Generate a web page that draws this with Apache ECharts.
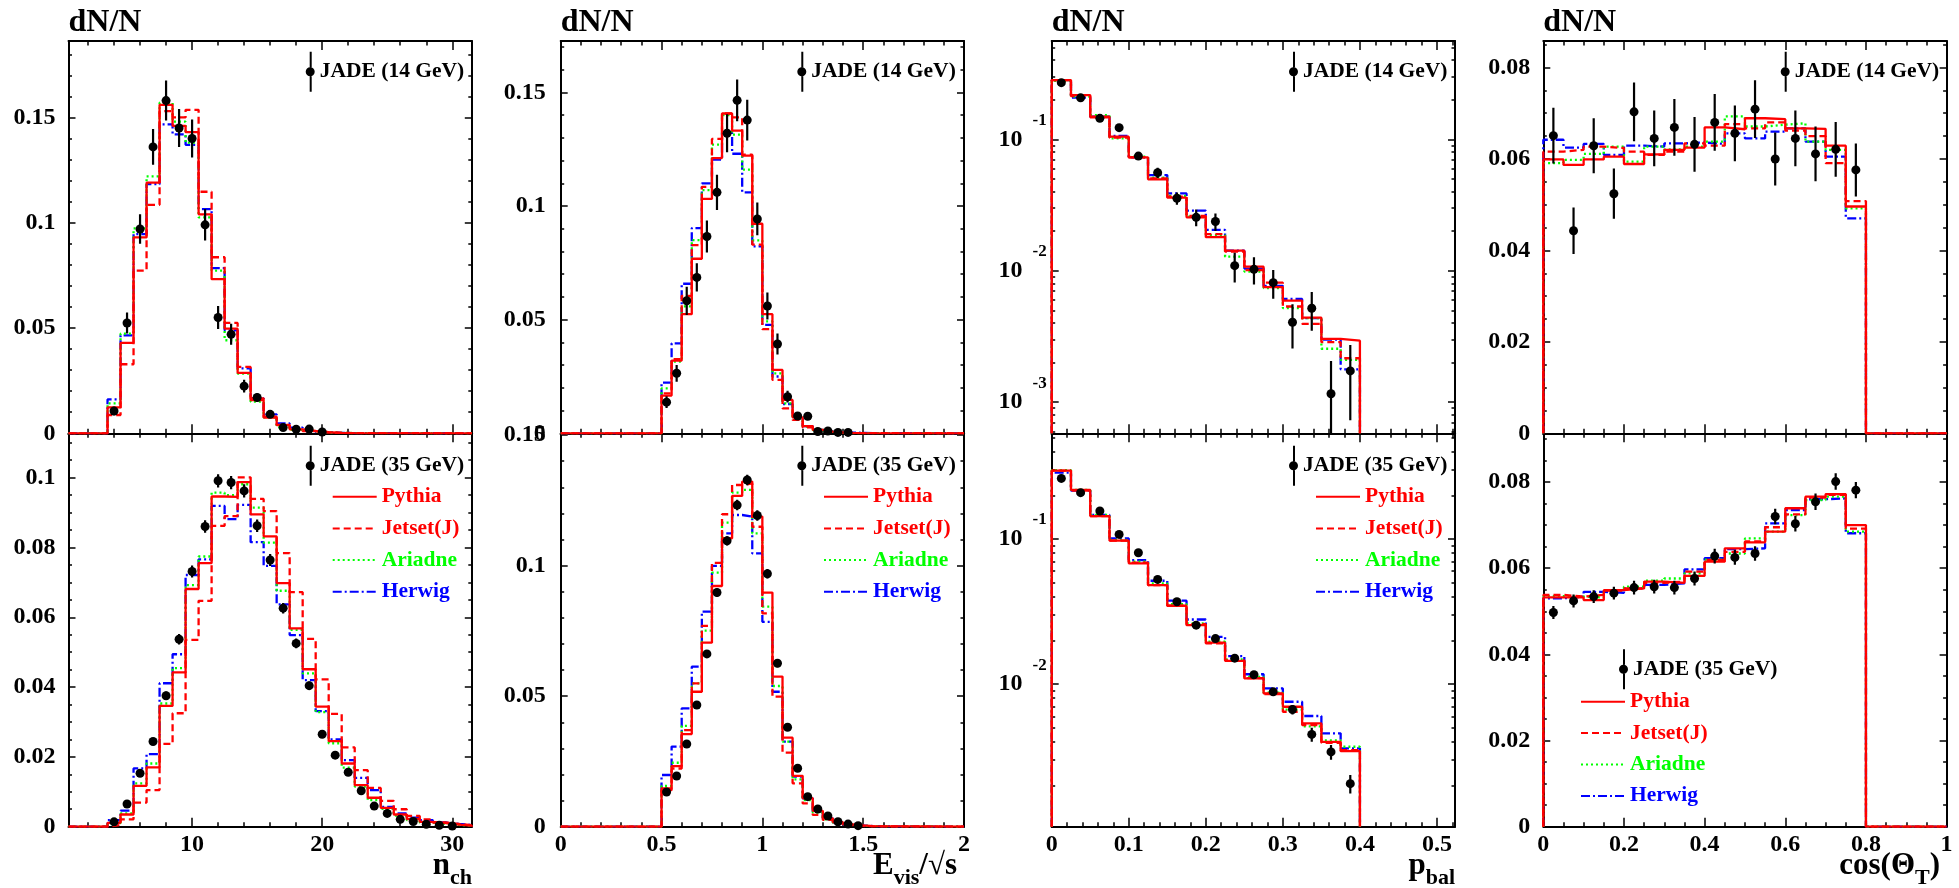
<!DOCTYPE html>
<html>
<head>
<meta charset="utf-8">
<script src="https://cdn.jsdelivr.net/npm/echarts@6/dist/echarts.min.js"></script>
<style>
html, body { margin: 0; padding: 0; background: #fff; }
#main { width: 1959px; height: 888px; }
</style>
</head>
<body>
<div id="main"></div>
<script>
// ---------- n_ch ----------
var nchEdges = [3.5, 4.5, 5.5, 6.5, 7.5, 8.5, 9.5, 10.5, 11.5, 12.5, 13.5, 14.5, 15.5, 16.5, 17.5, 18.5, 19.5, 20.5, 21.5, 22.5, 23.5, 24.5, 25.5, 26.5, 27.5, 28.5, 29.5, 30.5, 31.5];
var nchX14 = [4, 5, 6, 7, 8, 9, 10, 11, 12, 13, 14, 15, 16, 17, 18, 19, 20];
var nchData14 = [0.0106, 0.0524, 0.097, 0.136, 0.158, 0.145, 0.140, 0.099, 0.055, 0.047, 0.0224, 0.017, 0.009, 0.0027, 0.0019, 0.002, 0.0006];
var nchErr14 = [0.002, 0.005, 0.007, 0.0085, 0.0095, 0.009, 0.009, 0.0075, 0.0055, 0.005, 0.003, 0.002, 0.0015, 0.001, 0.0008, 0.0008, 0.0005];
var nchPythia14 = [0.0123, 0.0429, 0.093, 0.119, 0.156, 0.146, 0.143, 0.104, 0.0732, 0.0497, 0.0287, 0.0158, 0.0074, 0.0039, 0.0019, 0.0011, 0.0005, 0.0002, 0.0001];
var nchJetset14 = [0.0087, 0.0328, 0.0773, 0.1085, 0.153, 0.150, 0.1536, 0.1147, 0.0836, 0.0524, 0.0315, 0.0166, 0.0079, 0.004, 0.002, 0.001, 0.0005, 0.0002, 0.0001];
var nchAriadne14 = [0.0142, 0.0473, 0.0973, 0.122, 0.157, 0.148, 0.138, 0.1025, 0.0773, 0.0442, 0.0284, 0.015, 0.0076, 0.0028, 0.0016, 0.001, 0.0004, 0.0002, 0.0001];
var nchHerwig14 = [0.0161, 0.0465, 0.0946, 0.1183, 0.1467, 0.142, 0.137, 0.1065, 0.0784, 0.0489, 0.0308, 0.0166, 0.009, 0.0047, 0.0027, 0.0016, 0.0006, 0.0002, 0.0001];

var nchX35 = [4, 5, 6, 7, 8, 9, 10, 11, 12, 13, 14, 15, 16, 17, 18, 19, 20, 21, 22, 23, 24, 25, 26, 27, 28, 29, 30];
var nchData35 = [0.0014, 0.0065, 0.0153, 0.0244, 0.0375, 0.0537, 0.0731, 0.086, 0.0991, 0.0986, 0.0962, 0.0862, 0.0764, 0.0626, 0.0525, 0.0404, 0.0265, 0.0205, 0.0156, 0.0103, 0.0059, 0.0038, 0.0021, 0.0015, 0.0007, 0.0004, 0.0002];
var nchErr35 = [0.0003, 0.0005, 0.0008, 0.001, 0.0012, 0.0015, 0.0017, 0.0018, 0.0019, 0.0019, 0.0019, 0.0018, 0.0017, 0.0015, 0.0014, 0.0012, 0.001, 0.0009, 0.0008, 0.0006, 0.0005, 0.0004, 0.0003, 0.0003, 0.0002, 0.0002, 0.0001];
var nchPythia35 = [0.0011, 0.0035, 0.0117, 0.017, 0.0346, 0.0442, 0.0681, 0.0755, 0.0946, 0.0945, 0.0987, 0.0895, 0.0832, 0.0698, 0.0568, 0.0451, 0.0344, 0.0245, 0.0181, 0.0119, 0.0083, 0.0054, 0.0035, 0.0022, 0.0014, 0.001, 0.0006, 0.0003];
var nchJetset35 = [0.0005, 0.0021, 0.0069, 0.0105, 0.0237, 0.0325, 0.0535, 0.0647, 0.0862, 0.089, 0.1001, 0.0939, 0.0904, 0.0784, 0.0672, 0.0538, 0.0422, 0.0323, 0.0227, 0.0162, 0.0111, 0.0074, 0.005, 0.0031, 0.0021, 0.0012, 0.0008, 0.0004];
var nchAriadne35 = [0.001, 0.0038, 0.0124, 0.0181, 0.0353, 0.0454, 0.0692, 0.0774, 0.0957, 0.095, 0.0981, 0.0914, 0.0814, 0.0676, 0.0564, 0.0439, 0.0328, 0.0239, 0.0169, 0.0115, 0.0076, 0.0051, 0.0032, 0.0019, 0.0012, 0.0008, 0.0005, 0.0003];
var nchHerwig35 = [0.0019, 0.0046, 0.0167, 0.0208, 0.0411, 0.0494, 0.0721, 0.0766, 0.0919, 0.0881, 0.0922, 0.0815, 0.0747, 0.0637, 0.0549, 0.042, 0.0331, 0.025, 0.0191, 0.014, 0.0105, 0.0057, 0.0038, 0.0026, 0.0019, 0.0012, 0.0008, 0.0005];

// ---------- E_vis / sqrt(s) ----------
var evisEdges = [0.5, 0.55, 0.6, 0.65, 0.7, 0.75, 0.8, 0.85, 0.9, 0.95, 1.0, 1.05, 1.1, 1.15, 1.2, 1.25, 1.3, 1.35, 1.4, 1.45, 1.5, 1.55];
var evisX14 = [0.525, 0.575, 0.625, 0.675, 0.725, 0.775, 0.825, 0.875, 0.925, 0.975, 1.025, 1.075, 1.125, 1.175, 1.225, 1.275, 1.325, 1.375, 1.425];
var evisData14 = [0.0137, 0.0264, 0.0583, 0.0686, 0.0866, 0.106, 0.132, 0.1465, 0.1378, 0.0943, 0.056, 0.0393, 0.0161, 0.0076, 0.0075, 0.0008, 0.001, 0.0004, 0.0004];
var evisErr14 = [0.0026, 0.0037, 0.0062, 0.0062, 0.007, 0.0078, 0.0084, 0.0092, 0.009, 0.0072, 0.0059, 0.0046, 0.0026, 0.0013, 0.0013, 0.0005, 0.0005, 0.0004, 0.0004];
var evisPythia14 = [0.0166, 0.032, 0.0524, 0.0768, 0.1031, 0.1211, 0.1407, 0.1332, 0.1222, 0.0922, 0.0524, 0.0279, 0.0147, 0.007, 0.0032, 0.0015, 0.0007, 0.0004, 0.0002, 0.0001];
var evisJetset14 = [0.0176, 0.0326, 0.0605, 0.0828, 0.1084, 0.1295, 0.1407, 0.139, 0.1226, 0.083, 0.0458, 0.0235, 0.011, 0.0059, 0.0026, 0.0012, 0.0006, 0.0003, 0.0001];
var evisAriadne14 = [0.0198, 0.0316, 0.0558, 0.085, 0.107, 0.127, 0.140, 0.1314, 0.116, 0.0849, 0.0492, 0.0264, 0.0132, 0.0066, 0.0029, 0.0014, 0.0007, 0.0003, 0.0001];
var evisHerwig14 = [0.0223, 0.0396, 0.0658, 0.0903, 0.11, 0.1204, 0.1322, 0.123, 0.106, 0.0822, 0.0477, 0.025, 0.0129, 0.0073, 0.0032, 0.0015, 0.0008, 0.0005, 0.0003, 0.0002, 0.0001];

var evisX35 = [0.525, 0.575, 0.625, 0.675, 0.725, 0.775, 0.825, 0.875, 0.925, 0.975, 1.025, 1.075, 1.125, 1.175, 1.225, 1.275, 1.325, 1.375, 1.425, 1.475];
var evisData35 = [0.0133, 0.0194, 0.0317, 0.0466, 0.0662, 0.0897, 0.1095, 0.1232, 0.1328, 0.1192, 0.0969, 0.0626, 0.0381, 0.0224, 0.0115, 0.0068, 0.0041, 0.0019, 0.001, 0.0004];
var evisErr35 = [0.0006, 0.0008, 0.001, 0.0012, 0.0014, 0.0016, 0.0018, 0.002, 0.002, 0.002, 0.0018, 0.0015, 0.0012, 0.0009, 0.0007, 0.0005, 0.0004, 0.0003, 0.0002, 0.0001];
var evisPythia35 = [0.0147, 0.0232, 0.0355, 0.0517, 0.0705, 0.0922, 0.1105, 0.1267, 0.1322, 0.1188, 0.0897, 0.0575, 0.0341, 0.0195, 0.0109, 0.0061, 0.0032, 0.0017, 0.0009, 0.0005, 0.0002];
var evisJetset35 = [0.014, 0.0223, 0.037, 0.0549, 0.0769, 0.1011, 0.1197, 0.1309, 0.1315, 0.1149, 0.0817, 0.0498, 0.0284, 0.0166, 0.0089, 0.0045, 0.0026, 0.0013, 0.0006, 0.0003, 0.0001];
var evisAriadne35 = [0.0156, 0.0245, 0.0386, 0.0549, 0.0751, 0.0973, 0.1165, 0.128, 0.129, 0.1124, 0.0843, 0.0539, 0.0326, 0.0181, 0.0102, 0.0054, 0.0028, 0.0015, 0.0008, 0.0004, 0.0002];
var evisHerwig35 = [0.0198, 0.0307, 0.0453, 0.0613, 0.0824, 0.0999, 0.1124, 0.1194, 0.1188, 0.1047, 0.0785, 0.0517, 0.0326, 0.0192, 0.0109, 0.0057, 0.0032, 0.0017, 0.0009, 0.0005, 0.0002];

// ---------- p_bal (log) ----------
var pbalEdges = [0, 0.025, 0.05, 0.075, 0.1, 0.125, 0.15, 0.175, 0.2, 0.225, 0.25, 0.275, 0.3, 0.325, 0.35, 0.375, 0.4];
var pbalX = [0.0125, 0.0375, 0.0625, 0.0875, 0.1125, 0.1375, 0.1625, 0.1875, 0.2125, 0.2375, 0.2625, 0.2875, 0.3125, 0.3375, 0.3625, 0.3875];
var pbalData14 = [0.270, 0.207, 0.1445, 0.1227, 0.0746, 0.0558, 0.0356, 0.0255, 0.0237, 0.01094, 0.01025, 0.00812, 0.00406, 0.00519, 0.00116, 0.00173];
var pbalErr14 = [0.008, 0.006, 0.005, 0.005, 0.005, 0.005, 0.0038, 0.0037, 0.0036, 0.0028, 0.0024, 0.002, 0.0015, 0.0017, 0.0009, 0.001];
var pbalPythia14 = [0.2825, 0.2172, 0.1486, 0.1047, 0.073, 0.0496, 0.036, 0.0255, 0.018, 0.01423, 0.01075, 0.0075, 0.00593, 0.0044, 0.00303, 0.00294];
var pbalJetset14 = [0.2825, 0.213, 0.147, 0.103, 0.073, 0.0505, 0.0366, 0.0261, 0.019, 0.014, 0.01014, 0.00812, 0.00535, 0.00395, 0.00286, 0.00216];
var pbalAriadne14 = [0.279, 0.211, 0.1531, 0.1018, 0.0738, 0.0511, 0.0371, 0.0258, 0.0187, 0.0128, 0.00986, 0.00739, 0.0052, 0.00436, 0.00255, 0.0021];
var pbalHerwig14 = [0.2825, 0.208, 0.1486, 0.106, 0.073, 0.0535, 0.0388, 0.0287, 0.0205, 0.01423, 0.0104, 0.00768, 0.0061, 0.00436, 0.003, 0.00178];

var pbalData35 = [0.262, 0.209, 0.156, 0.1077, 0.0805, 0.0527, 0.037, 0.0255, 0.0206, 0.0151, 0.0116, 0.00885, 0.00668, 0.0045, 0.00341, 0.00206];
var pbalErr35 = [0.004, 0.003, 0.0025, 0.002, 0.0015, 0.0012, 0.001, 0.0008, 0.0007, 0.0006, 0.0005, 0.0005, 0.0005, 0.0005, 0.0004, 0.0003];
var pbalPythia35 = [0.296, 0.218, 0.144, 0.0975, 0.068, 0.0482, 0.0347, 0.0255, 0.0193, 0.01448, 0.01094, 0.00863, 0.00698, 0.00536, 0.004, 0.00345];
var pbalJetset35 = [0.296, 0.216, 0.144, 0.0975, 0.0687, 0.0482, 0.0347, 0.0259, 0.0191, 0.0146, 0.011, 0.00855, 0.00645, 0.00522, 0.00394, 0.0035];
var pbalAriadne35 = [0.299, 0.218, 0.1465, 0.0985, 0.0698, 0.0495, 0.0356, 0.0262, 0.0196, 0.0148, 0.0112, 0.00873, 0.00668, 0.00511, 0.0041, 0.0037];
var pbalHerwig35 = [0.287, 0.216, 0.1465, 0.101, 0.0716, 0.0516, 0.0376, 0.0279, 0.0212, 0.0156, 0.0117, 0.00934, 0.00756, 0.00603, 0.00458, 0.00361];

// ---------- cos(Theta_T) ----------
var cosEdges = [0, 0.05, 0.1, 0.15, 0.2, 0.25, 0.3, 0.35, 0.4, 0.45, 0.5, 0.55, 0.6, 0.65, 0.7, 0.75, 0.8];
var cosX = [0.025, 0.075, 0.125, 0.175, 0.225, 0.275, 0.325, 0.375, 0.425, 0.475, 0.525, 0.575, 0.625, 0.675, 0.725, 0.775];
var cosData14 = [0.0651, 0.0443, 0.0629, 0.0524, 0.0703, 0.0645, 0.0669, 0.0632, 0.068, 0.0656, 0.0709, 0.06, 0.0645, 0.0611, 0.0621, 0.0576];
var cosErr14 = [0.0061, 0.0051, 0.006, 0.0055, 0.0064, 0.0061, 0.0062, 0.006, 0.0062, 0.0061, 0.0063, 0.0058, 0.0061, 0.006, 0.006, 0.0058];
var cosPythia14 = [0.0599, 0.0587, 0.0599, 0.0605, 0.0589, 0.061, 0.062, 0.0625, 0.0669, 0.0665, 0.0689, 0.0687, 0.0667, 0.0666, 0.0629, 0.0496];
var cosJetset14 = [0.0616, 0.062, 0.0627, 0.0624, 0.0616, 0.0609, 0.0616, 0.0634, 0.0629, 0.0676, 0.0667, 0.068, 0.0662, 0.065, 0.0591, 0.0508];
var cosAriadne14 = [0.0591, 0.0598, 0.0611, 0.0627, 0.0594, 0.0627, 0.0621, 0.0627, 0.0638, 0.0693, 0.0671, 0.0675, 0.0678, 0.0638, 0.062, 0.0492];
var cosHerwig14 = [0.0642, 0.0625, 0.0633, 0.0609, 0.0629, 0.0627, 0.0634, 0.0636, 0.0633, 0.0656, 0.0645, 0.066, 0.0667, 0.0638, 0.0605, 0.047];

var cosData35 = [0.0497, 0.0524, 0.0534, 0.0542, 0.0555, 0.0557, 0.0555, 0.0576, 0.0628, 0.0625, 0.0634, 0.072, 0.0703, 0.0754, 0.0801, 0.0781];
var cosErr35 = [0.0015, 0.0015, 0.0015, 0.0015, 0.0016, 0.0016, 0.0016, 0.0016, 0.0017, 0.0017, 0.0017, 0.0018, 0.0018, 0.0019, 0.0019, 0.0019];
var cosPythia35 = [0.0532, 0.0532, 0.0526, 0.0549, 0.0553, 0.0569, 0.0566, 0.0582, 0.0615, 0.0646, 0.066, 0.0685, 0.0739, 0.0766, 0.0772, 0.07];
var cosJetset35 = [0.0538, 0.0534, 0.0538, 0.0548, 0.0553, 0.0566, 0.0569, 0.0592, 0.0619, 0.0638, 0.0662, 0.0695, 0.0725, 0.0764, 0.077, 0.0692];
var cosAriadne35 = [0.0535, 0.0534, 0.0532, 0.0549, 0.0557, 0.0571, 0.0576, 0.0588, 0.062, 0.0634, 0.0669, 0.0685, 0.0723, 0.0758, 0.0766, 0.0685];
var cosHerwig35 = [0.053, 0.0534, 0.0545, 0.0543, 0.0553, 0.0561, 0.0565, 0.0597, 0.0623, 0.0644, 0.0646, 0.0704, 0.0735, 0.076, 0.0762, 0.0681];

var mcNames = ['Pythia', 'Jetset(J)', 'Ariadne', 'Herwig'];

// ---------- layout / styles ----------
var FONT = 'Liberation Serif';
var RED = '#ff0000', GREEN = '#00ff00', BLUE = '#0000ff';
var mcStyle = [
    { color: RED, type: 'solid' },
    { color: RED, type: [7, 4] },
    { color: GREEN, type: [2, 3] },
    { color: BLUE, type: [9, 3, 2, 3] }
];
var colLeft = [68.5, 560.7, 1051.7, 1543.3];
var colWidth = 403.3;
var rowTop = [41, 433.3];
var rowHeight = [392.3, 393.4];

var panels = [
    { col: 0, row: 0, edges: nchEdges, px: nchX14, py: nchData14, pe: nchErr14, mc: [nchPythia14, nchJetset14, nchAriadne14, nchHerwig14],
      x: { min: 0.5, max: 31.5, step: 10, minor: 5 }, y: { min: 0, max: 0.1863, step: 0.05, minor: 5 }, jade: 'JADE (14 GeV)' },
    { col: 0, row: 1, edges: nchEdges, px: nchX35, py: nchData35, pe: nchErr35, mc: [nchPythia35, nchJetset35, nchAriadne35, nchHerwig35],
      x: { min: 0.5, max: 31.5, step: 10, minor: 5 }, y: { min: 0, max: 0.1127, step: 0.02, minor: 4 }, jade: 'JADE (35 GeV)' },
    { col: 1, row: 0, edges: evisEdges, px: evisX14, py: evisData14, pe: evisErr14, mc: [evisPythia14, evisJetset14, evisAriadne14, evisHerwig14],
      x: { min: 0, max: 2, step: 0.5, minor: 5 }, y: { min: 0, max: 0.1726, step: 0.05, minor: 5 }, jade: 'JADE (14 GeV)' },
    { col: 1, row: 1, edges: evisEdges, px: evisX35, py: evisData35, pe: evisErr35, mc: [evisPythia35, evisJetset35, evisAriadne35, evisHerwig35],
      x: { min: 0, max: 2, step: 0.5, minor: 5 }, y: { min: 0, max: 0.1507, step: 0.05, minor: 5 }, jade: 'JADE (35 GeV)' },
    { col: 2, row: 0, edges: pbalEdges, px: pbalX, py: pbalData14, pe: pbalErr14, mc: [pbalPythia14, pbalJetset14, pbalAriadne14, pbalHerwig14],
      x: { min: 0, max: 0.5234, step: 0.1, minor: 5 }, y: { min: 5.8e-4, max: 0.56, log: true }, jade: 'JADE (14 GeV)' },
    { col: 2, row: 1, edges: pbalEdges, px: pbalX, py: pbalData35, pe: pbalErr35, mc: [pbalPythia35, pbalJetset35, pbalAriadne35, pbalHerwig35],
      x: { min: 0, max: 0.5234, step: 0.1, minor: 5 }, y: { min: 1.04e-3, max: 0.536, log: true }, jade: 'JADE (35 GeV)' },
    { col: 3, row: 0, edges: cosEdges, px: cosX, py: cosData14, pe: cosErr14, mc: [cosPythia14, cosJetset14, cosAriadne14, cosHerwig14],
      x: { min: 0, max: 1, step: 0.2, minor: 4 }, y: { min: 0, max: 0.0858, step: 0.02, minor: 4 }, jade: 'JADE (14 GeV)' },
    { col: 3, row: 1, edges: cosEdges, px: cosX, py: cosData35, pe: cosErr35, mc: [cosPythia35, cosJetset35, cosAriadne35, cosHerwig35],
      x: { min: 0, max: 1, step: 0.2, minor: 4 }, y: { min: 0, max: 0.0913, step: 0.02, minor: 4 }, jade: 'JADE (35 GeV)' }
];

var jadeLegendPos = [[305.7, 51.7], [305.7, 445.7], [797.3, 51.7], [797.3, 445.7], [1289, 51.7], [1289, 445.7], [1780.7, 51.7], [1619, 649.3]];
var mcLegendPos = [null, [331.7, 485.7, 9.7], null, [823, 485.7, 9.7], null, [1315, 485.7, 9.7], null, [1580, 690.7, 9.4]];

var axisTitles = [
    { x: 472, text: '{m|n}{s|ch}' },
    { x: 957, text: '{m|E}{s|vis}{m|/√s}' },
    { x: 1455, text: '{m|p}{s|bal}' },
    { x: 1940, text: '{m|cos(Θ}{s|T}{m|)}' }
];

var JADE_ICON = 'path://M4,0H6V15.5H4Z M4,24.5H6V40H4Z M0,20A4.5,4.5,0,1,0,9,20A4.5,4.5,0,1,0,0,20Z';

function histPoints(edges, vals, xMin, xMax, floor, extend) {
    var pts = [];
    if (extend) pts.push([xMin, floor]);
    pts.push([edges[0], floor]);
    for (var i = 0; i < vals.length; i++) {
        pts.push([edges[i], vals[i]]);
        pts.push([edges[i + 1], vals[i]]);
    }
    pts.push([edges[vals.length], floor]);
    if (extend) pts.push([xMax, floor]);
    return pts;
}

function stepFormatter(step) {
    return function (v) {
        var k = v / step;
        if (Math.abs(k - Math.round(k)) > 1e-6) return '';
        return String(+v.toFixed(8));
    };
}

var tickLine = { color: '#000', width: 1.5 };
var labelFont = { fontFamily: FONT, fontWeight: 'bold', fontSize: 24, color: '#000' };

function makeX(gi, pos, p, labels) {
    return {
        type: 'value', gridIndex: gi, position: pos,
        min: p.x.min, max: p.x.max, minInterval: p.x.step, maxInterval: p.x.step,
        axisLine: { show: true, onZero: false, lineStyle: { color: '#000', width: 2 } },
        axisTick: { show: true, inside: true, length: 9, lineStyle: tickLine },
        minorTick: { show: true, splitNumber: p.x.minor, length: 4.5, lineStyle: tickLine },
        splitLine: { show: false }, minorSplitLine: { show: false },
        axisLabel: Object.assign({ show: labels, margin: 6, formatter: stepFormatter(p.x.step) }, labelFont)
    };
}

function makeY(gi, pos, p, labels) {
    var ax = {
        gridIndex: gi, position: pos, min: p.y.min, max: p.y.max,
        axisLine: { show: true, onZero: false, lineStyle: { color: '#000', width: 2 } },
        axisTick: { show: true, inside: true, length: 7, lineStyle: tickLine },
        splitLine: { show: false }, minorSplitLine: { show: false }
    };
    if (p.y.log) {
        ax.type = 'log';
        ax.logBase = 10;
        ax.minorTick = { show: true, splitNumber: 9, length: 3.5, lineStyle: tickLine };
        ax.axisLabel = {
            show: labels, margin: 5,
            formatter: function (v) {
                var e = Math.log(v) / Math.LN10;
                if (Math.abs(e - Math.round(e)) > 1e-6) return '';
                return '{b|10}{s|' + Math.round(e) + '}';
            },
            rich: {
                b: { fontFamily: FONT, fontWeight: 'bold', fontSize: 24, color: '#000' },
                s: { fontFamily: FONT, fontWeight: 'bold', fontSize: 17, color: '#000', padding: [0, 0, 38, 10] }
            }
        };
    } else {
        ax.type = 'value';
        ax.minInterval = p.y.step;
        ax.maxInterval = p.y.step;
        ax.minorTick = { show: true, splitNumber: p.y.minor, length: 3.5, lineStyle: tickLine };
        ax.axisLabel = Object.assign({ show: labels, margin: p.col === 1 ? 15 : 13, formatter: stepFormatter(p.y.step) }, labelFont);
    }
    return ax;
}

var grids = [], xAxes = [], yAxes = [], series = [], legends = [], graphics = [];
var legendText = { fontFamily: FONT, fontWeight: 'bold', fontSize: 21.5, color: '#000', lineHeight: 22 };

panels.forEach(function (p, i) {
    grids.push({ left: colLeft[p.col], top: rowTop[p.row], width: colWidth, height: rowHeight[p.row],
                 containLabel: false, outerBoundsMode: 'none' });
    xAxes.push(makeX(i, 'bottom', p, p.row === 1));
    xAxes.push(makeX(i, 'top', p, false));
    yAxes.push(makeY(i, 'left', p, true));
    yAxes.push(makeY(i, 'right', p, false));
    var xi = 2 * i, yi = 2 * i;
    var floor = p.y.log ? p.y.min : 0;

    // MC histograms: Herwig first so that Pythia ends up on top
    for (var m = 3; m >= 0; m--) {
        series.push({
            type: 'line', name: mcNames[m], xAxisIndex: xi, yAxisIndex: yi,
            data: histPoints(p.edges, p.mc[m], p.x.min, p.x.max, floor, !p.y.log),
            symbol: 'none', showSymbol: false, clip: true, z: 3, silent: true,
            itemStyle: { color: mcStyle[m].color },
            lineStyle: { color: mcStyle[m].color, width: 2.3, type: mcStyle[m].type }
        });
    }
    var pts = p.px.map(function (x, k) { return [x, p.py[k]]; });
    series.push({
        type: 'scatter', name: p.jade, xAxisIndex: xi, yAxisIndex: yi,
        data: pts, symbol: 'circle', symbolSize: 9, z: 6, silent: true,
        itemStyle: { color: '#000', opacity: 1 }
    });
    series.push({
        type: 'custom', name: p.jade, xAxisIndex: xi, yAxisIndex: yi, clip: true, z: 5, silent: true,
        itemStyle: { color: '#000' },
        data: p.px.map(function (x, k) { return [x, p.py[k], p.pe[k]]; }),
        renderItem: function (params, api) {
            var x = api.value(0), y = api.value(1), e = api.value(2);
            var lo = y - e;
            if (lo <= 0) lo = y * 1e-3;
            var a = api.coord([x, lo]), b = api.coord([x, y + e]);
            return { type: 'line', shape: { x1: a[0], y1: a[1], x2: b[0], y2: b[1] },
                     style: { stroke: '#000', lineWidth: 2.2 } };
        }
    });

    legends.push({
        show: true, orient: 'vertical', left: jadeLegendPos[i][0], top: jadeLegendPos[i][1], padding: 0,
        itemWidth: 9, itemHeight: 40, selectedMode: false,
        itemStyle: { color: '#000', opacity: 1 },
        data: [{ name: p.jade, icon: JADE_ICON }], textStyle: legendText
    });
    if (mcLegendPos[i]) {
        legends.push({
            show: true, orient: 'vertical', left: mcLegendPos[i][0], top: mcLegendPos[i][1], padding: 0,
            itemWidth: 44, itemHeight: 14, itemGap: mcLegendPos[i][2], selectedMode: false,
            itemStyle: { opacity: 0 },
            textStyle: legendText,
            data: mcNames.map(function (n, k) { return { name: n, textStyle: { color: mcStyle[k].color } }; })
        });
    }
});

colLeft.forEach(function (x) {
    graphics.push({ type: 'text', x: x, y: 22.5,
        style: { text: 'dN/N', fontFamily: FONT, fontWeight: 'bold', fontSize: 32, fill: '#000', align: 'left', verticalAlign: 'middle' } });
});
axisTitles.forEach(function (t) {
    graphics.push({ type: 'text', x: t.x, y: 866,
        style: { text: t.text, align: 'right', verticalAlign: 'middle', fill: '#000',
            rich: {
                m: { fontFamily: FONT, fontWeight: 'bold', fontSize: 31, fill: '#000', color: '#000' },
                s: { fontFamily: FONT, fontWeight: 'bold', fontSize: 22, fill: '#000', color: '#000', padding: [25, 0, 0, 0] }
            } } });
});

var myChart = echarts.init(document.getElementById('main'));
var option = {
    backgroundColor: '#fff',
    animation: false,
    grid: grids,
    xAxis: xAxes,
    yAxis: yAxes,
    legend: legends,
    series: series,
    graphic: graphics
};
myChart.setOption(option);
</script>
</body>
</html>
